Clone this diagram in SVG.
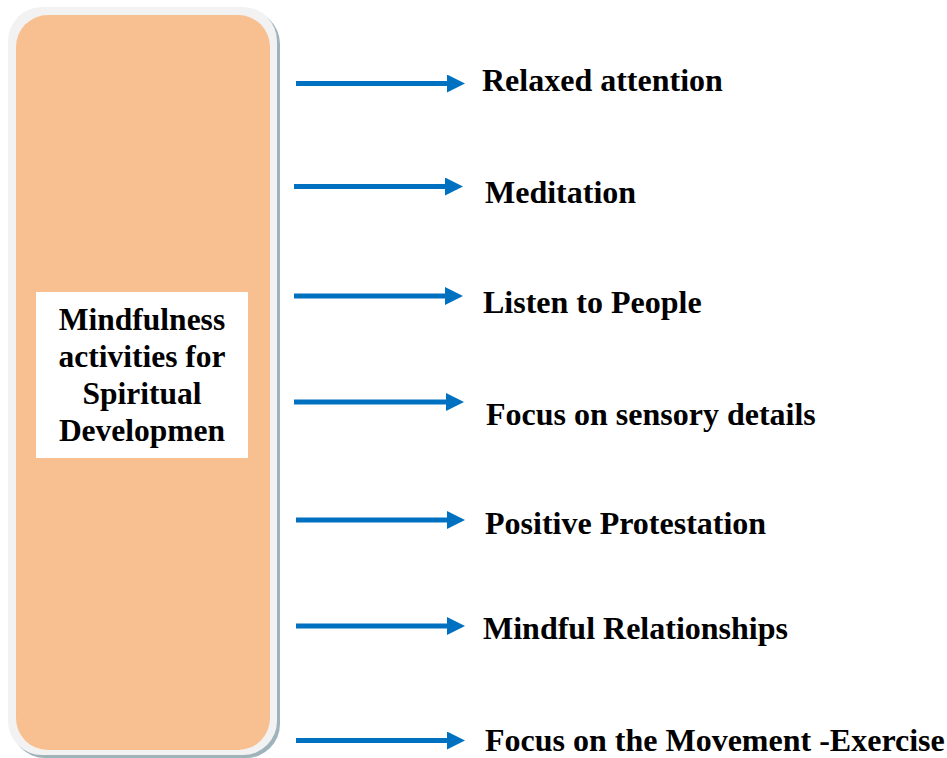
<svg xmlns="http://www.w3.org/2000/svg" width="947" height="758" viewBox="0 0 947 758">
  <style>
    .lbl { font-family: "Liberation Serif", "Times New Roman", serif; font-weight: bold; font-size: 32px; fill: #000; }
    .ttl { font-family: "Liberation Serif", "Times New Roman", serif; font-weight: bold; font-size: 31.5px; fill: #000; text-anchor: middle; }
    .arr { stroke: #0070C0; stroke-width: 5; fill: none; marker-end: url(#ah); }
  </style>
  <defs>
    <marker id="ah" viewBox="0 0 18 18" refX="0" refY="9" markerWidth="18" markerHeight="18" markerUnits="userSpaceOnUse" orient="auto">
      <path d="M0,0 L18,9 L0,18 z" fill="#0070C0"/>
    </marker>
  </defs>
  <rect width="947" height="758" fill="#ffffff"/>

  <g id="main">
    <rect x="11" y="10" width="269" height="748" rx="34" fill="#9fb3bb"/>
    <rect x="8" y="7" width="269" height="748" rx="34" fill="#f2f2f2"/>
    <rect x="16" y="15" width="254" height="735" rx="32" fill="#F8C090"/>
    <rect x="36" y="292" width="212" height="166" fill="#ffffff"/>
    <text class="ttl" x="142" y="330">Mindfulness</text>
    <text class="ttl" x="142" y="367">activities for</text>
    <text class="ttl" x="142" y="404">Spiritual</text>
    <text class="ttl" x="142" y="441">Developmen</text>
  </g>

  <g id="connectors">
    <line class="arr" x1="296" y1="83.5" x2="447" y2="83.5"/>
    <line class="arr" x1="294" y1="186.5" x2="445" y2="186.5"/>
    <line class="arr" x1="294" y1="296" x2="445" y2="296"/>
    <line class="arr" x1="294" y1="402" x2="446" y2="402"/>
    <line class="arr" x1="296" y1="520" x2="447" y2="520"/>
    <line class="arr" x1="296" y1="626" x2="447" y2="626"/>
    <line class="arr" x1="296" y1="740.5" x2="447" y2="740.5"/>
  </g>

  <g id="n1"><text class="lbl" x="482" y="91">Relaxed attention</text></g>
  <g id="n2"><text class="lbl" x="485" y="203">Meditation</text></g>
  <g id="n3"><text class="lbl" x="483" y="313">Listen to People</text></g>
  <g id="n4"><text class="lbl" x="486" y="425">Focus on sensory details</text></g>
  <g id="n5"><text class="lbl" x="485" y="534">Positive Protestation</text></g>
  <g id="n6"><text class="lbl" x="483" y="639">Mindful Relationships</text></g>
  <g id="n7"><text class="lbl" x="485" y="751">Focus on the Movement -Exercise</text></g>
</svg>
